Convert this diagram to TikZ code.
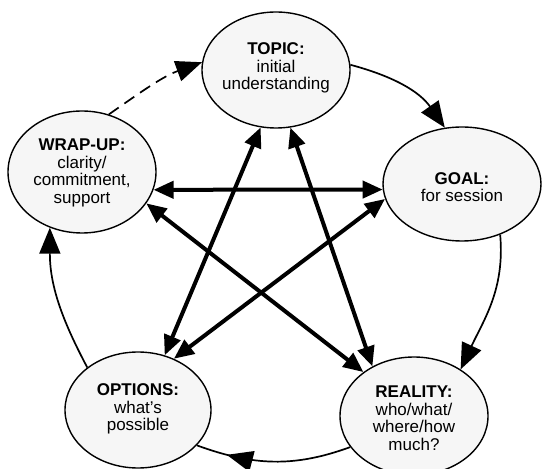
\documentclass[tikz,border=0pt]{standalone}
\usepackage{fontspec}
\setmainfont{Liberation Sans}
\usetikzlibrary{shapes.geometric,arrows.meta,decorations.markings}

\begin{document}
\begin{tikzpicture}[x=1pt,y=1pt,
  stage/.style={ellipse, draw, line width=1.4pt, fill=gray!7, inner sep=0pt},
  stagetext/.style={align=center, inner sep=0pt, font=\fontsize{17}{17.5}\selectfont},
  cycle/.style={line width=1.7pt, -{Triangle[length=26pt,width=21pt]}},
  link/.style={line width=4pt, {Triangle[length=20pt,width=17pt]}-{Triangle[length=20pt,width=17pt]}},
]
\useasboundingbox (0,0) rectangle (545,468);

% the five stages
\node[stage, minimum width=148pt, minimum height=116pt] (topic)   at (276,398) {};
\node[stage, minimum width=158pt, minimum height=114pt] (goal)    at (462,284) {};
\node[stage, minimum width=148pt, minimum height=122pt] (wrap)    at (82,296)  {};
\node[stage, minimum width=146pt, minimum height=116pt] (options) at (138,58)  {};
\node[stage, minimum width=148pt, minimum height=118pt] (reality) at (414,52)  {};

\node[stagetext] (topictext)   at (276,400) {\textbf{TOPIC:}\\initial\\understanding};
\node[stagetext] (goaltext)    at (462,281) {\textbf{GOAL:}\\for session};
\node[stagetext] (wraptext)    at (82,295)  {\textbf{WRAP-UP:}\\clarity/\\commitment,\\support};
\node[stagetext] (optionstext) at (138,59)  {\textbf{OPTIONS:}\\what's\\possible};
\node[stagetext] (realitytext) at (414,50)  {\textbf{REALITY:}\\who/what/\\where/how\\much?};

% outer cycle
\draw[cycle] (topic.4) to[out=-15,in=125] (goal.107);
\draw[cycle] (goal.-53) to[out=-85,in=65] (reality.45);
\draw[line width=1.7pt, postaction={decorate},
  decoration={markings, mark=at position 0.8 with {\arrow{Triangle[length=26pt,width=21pt]}}}]
  (reality.206) to[out=200,in=-20] (options.-31);
\draw[cycle] (options.140) to[out=118,in=-90] (wrap.-120);
\draw[cycle, dash pattern=on 12pt off 7pt] (wrap.65) to[out=35,in=200] (topic.174);

% cross links
\draw[link] (wrap.-14) -- (goal.184);
\draw[link] (wrap.-26) -- (reality.139);
\draw[link] (topic.-105) -- (options.64);
\draw[link] (topic.-76) -- (reality.130);
\draw[link] (goal.191) -- (options.55);
\end{tikzpicture}
\end{document}
